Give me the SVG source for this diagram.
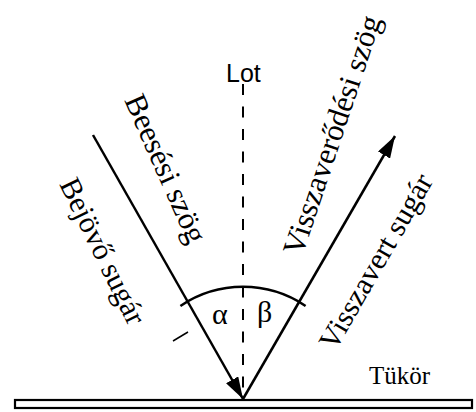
<svg xmlns="http://www.w3.org/2000/svg" width="476" height="412" viewBox="0 0 476 412">
<defs>
<style>
.serif{font-family:"Liberation Serif","Times New Roman",serif;fill:#000}
.sans{font-family:"Liberation Sans",Arial,sans-serif;fill:#000}
.ray{stroke:#000;stroke-width:2.5;fill:none}
</style>
<marker id="ah" viewBox="0 0 22 14" refX="22" refY="7" markerWidth="22" markerHeight="14" markerUnits="userSpaceOnUse" orient="auto">
<path d="M0,0 L22,7 L0,14 Z" fill="#000"/>
</marker>
</defs>
<rect width="476" height="412" fill="#fff"/>
<g id="mirror">
<rect x="15" y="400" width="457" height="8" fill="#fff" stroke="#000" stroke-width="2.2"/>
<text class="serif" x="369" y="384" font-size="25">Tükör</text>
</g>
<g id="normal">
<line x1="243" y1="84" x2="243" y2="399" stroke="#000" stroke-width="2" stroke-dasharray="11 11.5"/>
<text class="sans" x="226" y="82" font-size="25">Lot</text>
</g>
<g id="connectors">
<line class="ray" x1="93" y1="135" x2="243" y2="399" marker-end="url(#ah)"/>
<line class="ray" x1="243" y1="399" x2="395" y2="136" marker-end="url(#ah)"/>
<path class="ray" d="M180.4,306 A112,112 0 0 1 305.6,306" stroke-width="2"/>
<line x1="173" y1="341" x2="188" y2="332" stroke="#000" stroke-width="1.5"/>
</g>
<g id="incident-labels">
<text class="serif" font-size="31" transform="translate(124,100) rotate(66)">Beesési szög</text>
<text class="serif" font-size="30" transform="translate(59,184) rotate(64)">Bejövő sugár</text>
</g>
<g id="reflected-labels">
<text class="serif" font-size="31" transform="translate(302,257) rotate(-71.5)">Visszaverődési szög</text>
<text class="serif" font-size="30" transform="translate(335,352) rotate(-60)">Visszavert sugár</text>
</g>
<g id="angles">
<text class="serif" x="212" y="324" font-size="30">α</text>
<text class="serif" x="257" y="322" font-size="30">β</text>
</g>
</svg>
